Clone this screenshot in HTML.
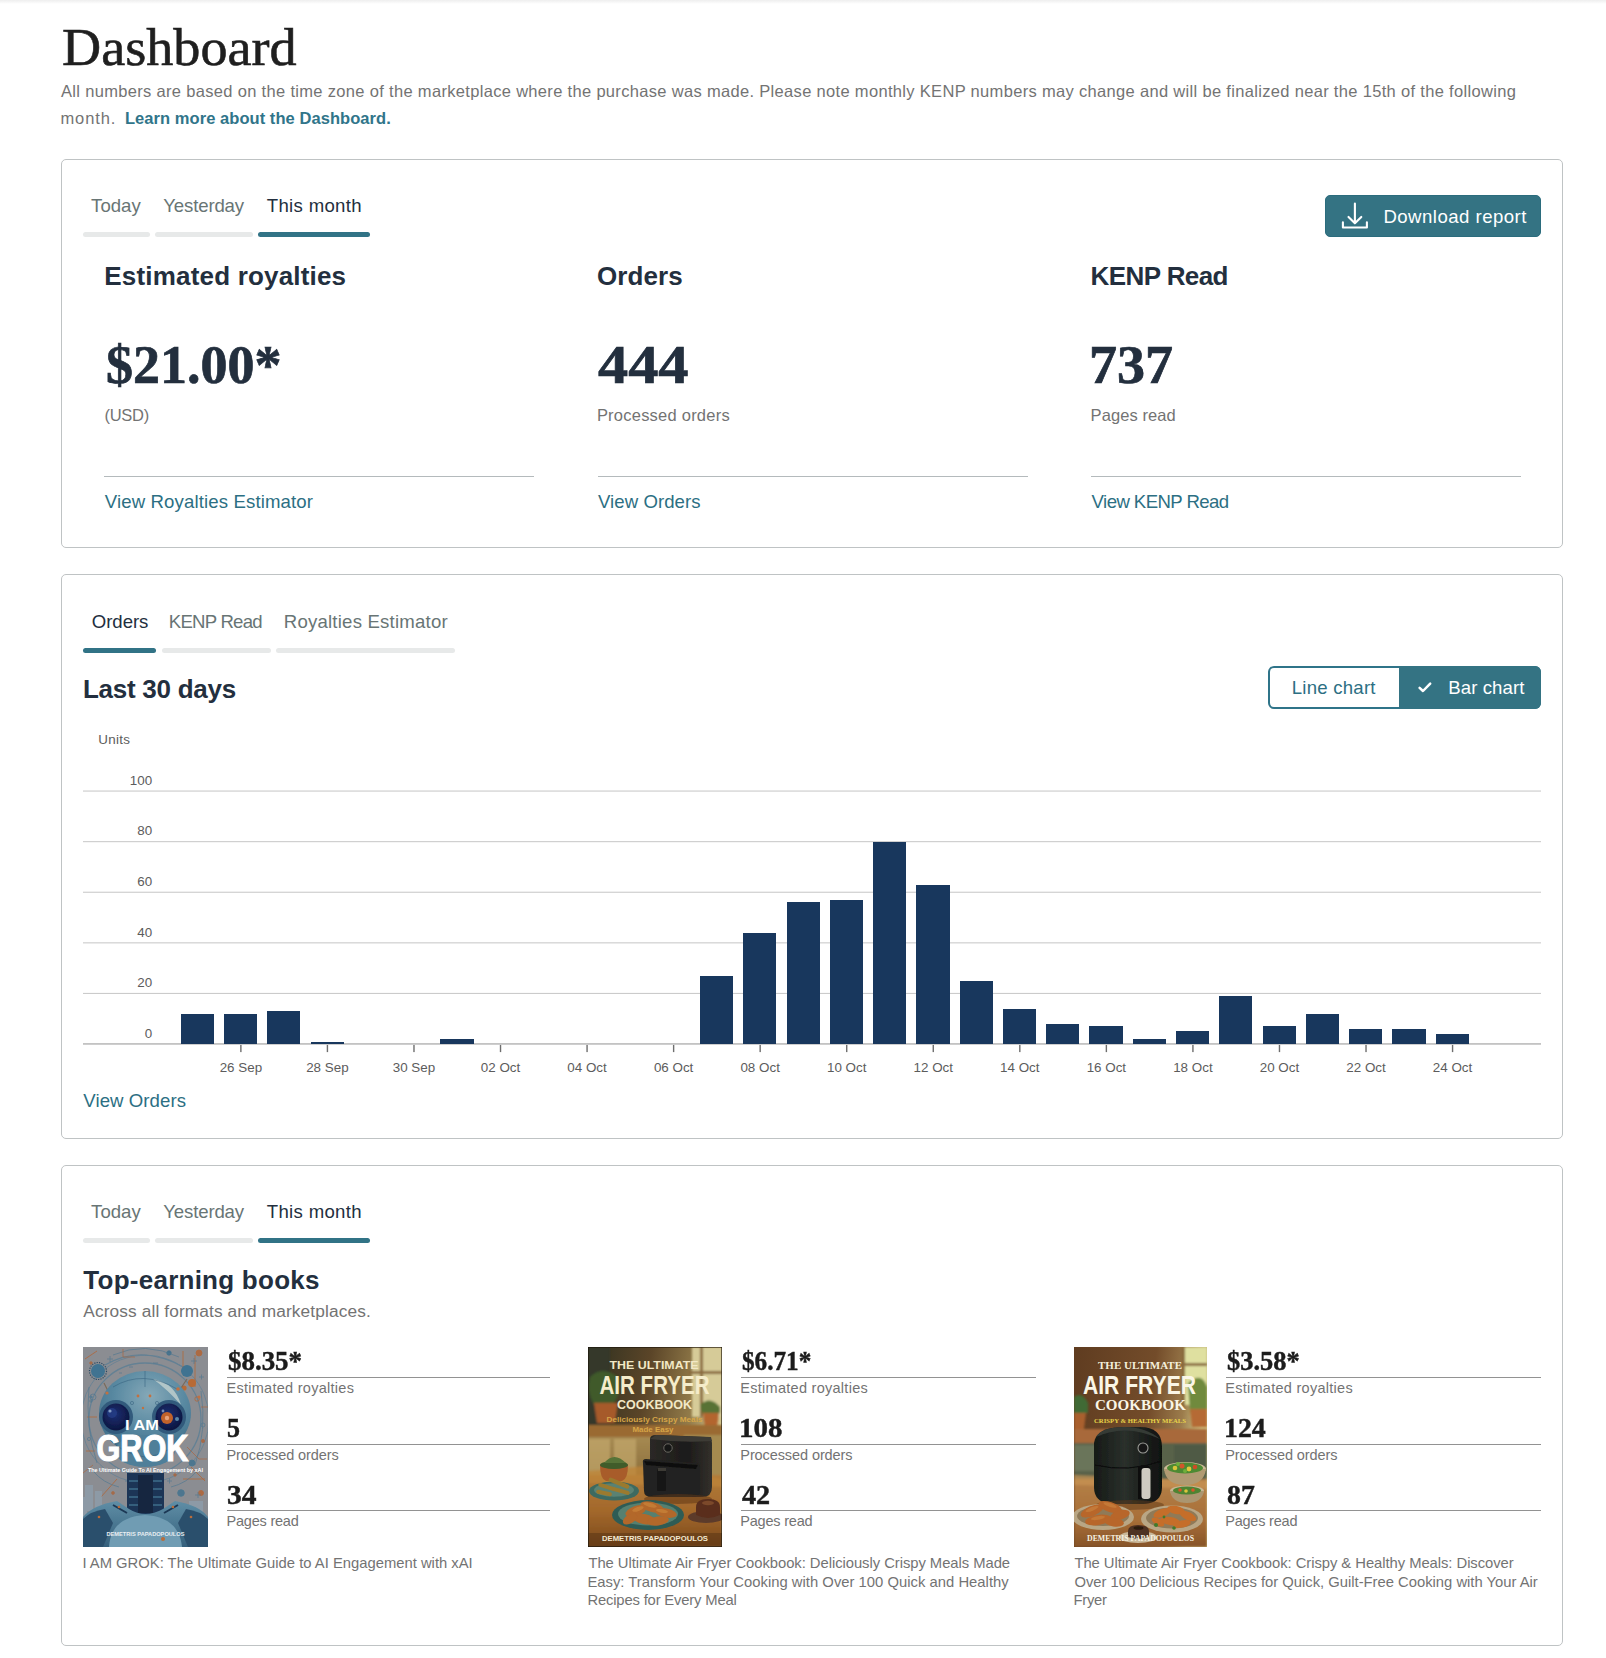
<!DOCTYPE html>
<html lang="en"><head><meta charset="utf-8"><title>Dashboard</title>
<style>
html,body{margin:0;padding:0;background:#fff}
body{width:1606px;height:1658px;position:relative;overflow:hidden}
.b{position:absolute}
.t{position:absolute;white-space:nowrap;line-height:normal}
.cover{overflow:hidden}
</style></head>
<body>
<div class="b" style="left:0px;top:0px;width:1606px;height:4px;background:linear-gradient(#eeeeee,#ffffff)"></div>
<div class="b" style="left:61px;top:159px;width:1502px;height:389px;border:1px solid #bfc3c4;border-radius:5px;box-sizing:border-box;background:#fff"></div>
<div class="b" style="left:61px;top:574px;width:1502px;height:565px;border:1px solid #bfc3c4;border-radius:5px;box-sizing:border-box;background:#fff"></div>
<div class="b" style="left:61px;top:1165px;width:1502px;height:481px;border:1px solid #bfc3c4;border-radius:5px;box-sizing:border-box;background:#fff"></div>
<div class="b" style="left:83px;top:232px;width:67px;height:5px;background:#e7e9e9;border-radius:3px"></div>
<div class="b" style="left:155px;top:232px;width:98px;height:5px;background:#e7e9e9;border-radius:3px"></div>
<div class="b" style="left:258px;top:232px;width:112px;height:5px;background:#317386;border-radius:3px"></div>
<div class="b" style="left:83px;top:647.5px;width:73px;height:5px;background:#317386;border-radius:3px"></div>
<div class="b" style="left:162px;top:647.5px;width:109px;height:5px;background:#e7e9e9;border-radius:3px"></div>
<div class="b" style="left:276px;top:647.5px;width:179px;height:5px;background:#e7e9e9;border-radius:3px"></div>
<div class="b" style="left:83px;top:1238px;width:67px;height:5px;background:#e7e9e9;border-radius:3px"></div>
<div class="b" style="left:155px;top:1238px;width:98px;height:5px;background:#e7e9e9;border-radius:3px"></div>
<div class="b" style="left:258px;top:1238px;width:112px;height:5px;background:#317386;border-radius:3px"></div>
<div class="b" style="left:1325px;top:195px;width:216px;height:42px;background:#347383;border:1px solid #2b6c7d;border-radius:5px;box-sizing:border-box"></div>
<svg class="b" style="left:1339px;top:200px" width="32" height="32" viewBox="0 0 32 32" fill="none" stroke="#fff" stroke-width="2.1" stroke-linecap="round" stroke-linejoin="round"><path d="M15.9 3.6V23.3M9.5 16.9L15.9 23.3L22.3 16.9M3.9 22.3V27.5H27.9V22.3"/></svg>
<div class="b" style="left:104px;top:476px;width:430px;height:1px;background:#b4babc"></div>
<div class="b" style="left:597.5px;top:476px;width:430px;height:1px;background:#b4babc"></div>
<div class="b" style="left:1090.5px;top:476px;width:430px;height:1px;background:#b4babc"></div>
<div class="b" style="left:1268px;top:666px;width:273px;height:43px;border:2px solid #2f7489;border-radius:6px;box-sizing:border-box;background:#fff"></div>
<div class="b" style="left:1399px;top:666px;width:142px;height:43px;background:#347383;border-radius:0 6px 6px 0"></div>
<svg class="b" style="left:1414px;top:677px" width="22" height="20" viewBox="0 0 22 20" fill="none" stroke="#fff" stroke-width="2.5" stroke-linecap="round" stroke-linejoin="round"><path d="M5.6 10.8L9 14L16.2 6.6"/></svg>
<svg class="b" style="left:83px;top:790px" width="1458" height="270" viewBox="0 0 1458 270"><rect x="0" y="0.50" width="1458" height="1.1" fill="#cbcbcb"/><rect x="0" y="51.10" width="1458" height="1.1" fill="#cbcbcb"/><rect x="0" y="101.70" width="1458" height="1.1" fill="#cbcbcb"/><rect x="0" y="152.30" width="1458" height="1.1" fill="#cbcbcb"/><rect x="0" y="202.90" width="1458" height="1.1" fill="#cbcbcb"/><rect x="157.18" y="254.8" width="1.4" height="7.3" fill="#6e6e6e"/><rect x="243.72" y="254.8" width="1.4" height="7.3" fill="#6e6e6e"/><rect x="330.28" y="254.8" width="1.4" height="7.3" fill="#6e6e6e"/><rect x="416.82" y="254.8" width="1.4" height="7.3" fill="#6e6e6e"/><rect x="503.37" y="254.8" width="1.4" height="7.3" fill="#6e6e6e"/><rect x="589.92" y="254.8" width="1.4" height="7.3" fill="#6e6e6e"/><rect x="676.47" y="254.8" width="1.4" height="7.3" fill="#6e6e6e"/><rect x="763.02" y="254.8" width="1.4" height="7.3" fill="#6e6e6e"/><rect x="849.57" y="254.8" width="1.4" height="7.3" fill="#6e6e6e"/><rect x="936.12" y="254.8" width="1.4" height="7.3" fill="#6e6e6e"/><rect x="1022.67" y="254.8" width="1.4" height="7.3" fill="#6e6e6e"/><rect x="1109.22" y="254.8" width="1.4" height="7.3" fill="#6e6e6e"/><rect x="1195.77" y="254.8" width="1.4" height="7.3" fill="#6e6e6e"/><rect x="1282.32" y="254.8" width="1.4" height="7.3" fill="#6e6e6e"/><rect x="1368.87" y="254.8" width="1.4" height="7.3" fill="#6e6e6e"/><rect x="0" y="253" width="1458" height="1.8" fill="#c3c3c3"/></svg>
<div class="b" style="left:181px;top:1013.7px;width:33px;height:30.7px;background:#18375d"></div>
<div class="b" style="left:224px;top:1013.7px;width:33px;height:30.7px;background:#18375d"></div>
<div class="b" style="left:267px;top:1011.2px;width:33px;height:33.2px;background:#18375d"></div>
<div class="b" style="left:311px;top:1041.5px;width:33px;height:2.9px;background:#18375d"></div>
<div class="b" style="left:440px;top:1039.0px;width:34px;height:5.4px;background:#18375d"></div>
<div class="b" style="left:700px;top:975.7px;width:33px;height:68.7px;background:#18375d"></div>
<div class="b" style="left:743px;top:932.7px;width:33px;height:111.7px;background:#18375d"></div>
<div class="b" style="left:787px;top:902.4px;width:33px;height:142.0px;background:#18375d"></div>
<div class="b" style="left:830px;top:899.8px;width:33px;height:144.6px;background:#18375d"></div>
<div class="b" style="left:873px;top:841.6px;width:33px;height:202.8px;background:#18375d"></div>
<div class="b" style="left:916px;top:884.7px;width:34px;height:159.7px;background:#18375d"></div>
<div class="b" style="left:960px;top:980.8px;width:33px;height:63.6px;background:#18375d"></div>
<div class="b" style="left:1003px;top:1008.6px;width:33px;height:35.8px;background:#18375d"></div>
<div class="b" style="left:1046px;top:1023.8px;width:33px;height:20.6px;background:#18375d"></div>
<div class="b" style="left:1089px;top:1026.3px;width:34px;height:18.1px;background:#18375d"></div>
<div class="b" style="left:1133px;top:1039.0px;width:33px;height:5.4px;background:#18375d"></div>
<div class="b" style="left:1176px;top:1031.4px;width:33px;height:13.0px;background:#18375d"></div>
<div class="b" style="left:1219px;top:996.0px;width:33px;height:48.4px;background:#18375d"></div>
<div class="b" style="left:1263px;top:1026.3px;width:33px;height:18.1px;background:#18375d"></div>
<div class="b" style="left:1306px;top:1013.7px;width:33px;height:30.7px;background:#18375d"></div>
<div class="b" style="left:1349px;top:1028.9px;width:33px;height:15.5px;background:#18375d"></div>
<div class="b" style="left:1392px;top:1028.9px;width:34px;height:15.5px;background:#18375d"></div>
<div class="b" style="left:1436px;top:1033.9px;width:33px;height:10.5px;background:#18375d"></div>
<div class="b cover" id="cover0" style="left:83px;top:1347px;width:125px;height:200px"><svg width="125" height="200" viewBox="0 0 125 200" style="display:block">
<defs>
<filter id="g0b" x="-10%" y="-10%" width="120%" height="120%"><feGaussianBlur stdDeviation="0.7"/></filter>
<radialGradient id="g0h" cx="0.55" cy="0.3" r="0.75"><stop offset="0" stop-color="#86a9b8"/><stop offset="0.5" stop-color="#5a8aa2"/><stop offset="1" stop-color="#3c6a86"/></radialGradient>
<radialGradient id="g0e" cx="0.45" cy="0.4" r="0.6"><stop offset="0" stop-color="#1d2f73"/><stop offset="1" stop-color="#0c1640"/></radialGradient>
<linearGradient id="g0s" x1="0" y1="0" x2="0" y2="1"><stop offset="0" stop-color="#5f8ea6"/><stop offset="1" stop-color="#35607c"/></linearGradient>
</defs>
<rect width="125" height="200" fill="#8b8d92"/>
<g filter="url(#g0b)">
<g fill="none" stroke="#5d7f95" stroke-width="1.3" opacity="0.85">
<circle cx="62" cy="72" r="56"/><circle cx="62" cy="72" r="64" stroke-width="0.8"/><path d="M22 18 Q60 -4 104 22"/>
</g>
<g fill="none" stroke="#b0673a" stroke-width="0.9" opacity="0.9">
<path d="M2 12 L14 4 M100 4 V26 M112 8 V40 M4 70 H14 M3 104 H12 M100 132 H122 M18 150 L34 132 M8 178 L20 166 M108 120 L122 134"/>
<circle cx="116" cy="6" r="3" fill="#b0673a"/><circle cx="114" cy="52" r="2.2"/><circle cx="86" cy="6" r="2.2" fill="#3f6f8c" stroke="#3f6f8c"/>
<circle cx="98" cy="146" r="3.3" fill="#46758f" stroke="#46758f"/><circle cx="118" cy="146" r="2.5" fill="#b0673a"/><circle cx="109" cy="116" r="3" fill="#46758f" stroke="#46758f"/>
</g>

<g fill="none" stroke="#4f7791" stroke-width="0.8" opacity="0.8">
<path d="M6 40 Q2 80 14 116 M118 44 Q124 84 112 118 M30 8 Q62 -6 96 10 M10 124 Q20 136 36 140 M88 140 Q104 136 114 124"/>
<path d="M24 12h6m-3-3v6 M108 14h6m-3-3v6 M116 30h5m-2.5-2.5v5 M42 134h5m-2.5-2.5v5 M84 134h5m-2.5-2.5v5 M112 148h6m-3-3v6 M6 54h4m-2-2v4 M46 20h4 M70 16h5 M36 26h3"/>
<circle cx="10" cy="50" r="3"/><circle cx="8" cy="50" r="1.2" fill="#4f7791"/><circle cx="120" cy="78" r="2"/><circle cx="6" cy="92" r="1.6"/>
</g>
<g fill="none" stroke="#a9653d" stroke-width="0.8" opacity="0.85">
<path d="M40 2 V10 H52 M118 60 H125 M0 126 L10 118 M104 100 L116 112 H124 M14 184 H24 M100 186 L110 176"/>
<circle cx="8" cy="16" r="1.3" fill="#a9653d"/><circle cx="120" cy="94" r="1.6" fill="#a9653d"/><circle cx="30" cy="146" r="1.4" fill="#a9653d"/><circle cx="92" cy="128" r="1.3" fill="#a9653d"/>
</g>
<g fill="#8fa7b6" opacity="0.55"><rect x="2" y="138" width="8" height="26"/><rect x="12" y="144" width="7" height="20"/><rect x="106" y="154" width="14" height="12"/><rect x="0" y="150" width="4" height="30"/></g>
<circle cx="15" cy="24" r="7" fill="#3f7391"/><circle cx="15" cy="24" r="8.5" fill="none" stroke="#2b4a63" stroke-width="1.2" stroke-dasharray="1.2 1.2"/>
<circle cx="104" cy="24" r="6" fill="#3f7391"/><circle cx="109" cy="36" r="4" fill="#b86a35"/><circle cx="101" cy="41" r="2.6" fill="#b86a35"/>
<path d="M21 36 L26 46 M96 44 L104 32" stroke="#7a6a5a" stroke-width="1.2"/>
<ellipse cx="62" cy="66" rx="46" ry="42" fill="url(#g0h)"/>
<path d="M70 32 Q92 36 98 58 Q84 42 70 32Z" fill="#c9d5d2" opacity="0.75"/>
<ellipse cx="62" cy="104" rx="30" ry="16" fill="#4f7f99"/>
<circle cx="33" cy="70" r="17" fill="#315a7c"/><circle cx="86" cy="70" r="17" fill="#315a7c"/>
<circle cx="33" cy="70" r="13.5" fill="url(#g0e)"/><circle cx="86" cy="70" r="13.5" fill="url(#g0e)"/>

<g fill="none" stroke="#2f5a78" stroke-width="0.7" opacity="0.7"><path d="M30 40 Q60 22 94 42 M22 88 Q40 108 62 110 Q86 108 102 88 M62 24 V40"/><circle cx="49" cy="56" r="1.6"/><circle cx="74" cy="56" r="1.6"/></g>
<circle cx="29" cy="66" r="5" fill="#27408a" opacity="0.7"/><circle cx="27" cy="64" r="1.6" fill="#9fb6d8" opacity="0.8"/><circle cx="80" cy="64" r="1.4" fill="#9fb6d8" opacity="0.7"/>
<circle cx="84" cy="71" r="6" fill="#c2622b"/><circle cx="84" cy="71" r="2.2" fill="#e8a27a"/><circle cx="94" cy="72" r="2" fill="#5a87a8"/>
<g fill="#c2703f"><circle cx="55" cy="49" r="1.4"/><circle cx="67" cy="49" r="1.4"/><circle cx="60" cy="61" r="1.2"/><circle cx="116" cy="50" r="1.5"/><circle cx="24" cy="46" r="1.6"/><circle cx="95" cy="42" r="1.8"/></g>
<rect x="44" y="126" width="37" height="42" fill="#1b3556"/>
<g stroke="#3f6c8a" stroke-width="1.6"><path d="M46 134H79M46 142H79M46 150H79M46 158H79"/></g>
<rect x="55" y="128" width="15" height="38" fill="#122640"/>
<path d="M0 170 Q10 158 34 154 L46 162 Q62 172 80 162 L92 154 Q116 158 125 170 V200 H0Z" fill="url(#g0s)"/>
<path d="M26 200 Q28 170 62 168 Q96 170 99 200Z" fill="#6f9cb3"/>
<path d="M0 172 Q8 164 22 162 L30 176 L20 200 H0Z" fill="#2c4f6c"/><path d="M125 172 Q117 164 103 162 L95 176 L105 200 H125Z" fill="#2c4f6c"/>
<path d="M30 158 L44 166 M95 158 L81 166" stroke="#1d3854" stroke-width="2"/>
<g fill="#b96c3a"><circle cx="36" cy="160" r="1.3"/><circle cx="90" cy="160" r="1.3"/><circle cx="80" cy="192" r="2"/><circle cx="16" cy="170" r="1.3"/><circle cx="108" cy="170" r="1.3"/></g>
</g>
<g font-family="'Liberation Sans', sans-serif" fill="#fff" text-anchor="middle" font-weight="700">
<text x="59" y="83.2" font-size="14.5" textLength="34" lengthAdjust="spacingAndGlyphs">I AM</text>
<text x="59.5" y="113.6" font-size="36" textLength="92" lengthAdjust="spacingAndGlyphs" stroke="#fff" stroke-width="1.1">GROK</text>
<text x="62.5" y="125" font-size="6.2" textLength="115" lengthAdjust="spacingAndGlyphs">The Ultimate Guide To AI Engagement by xAI</text>
<text x="62.5" y="189.3" font-size="4.9" textLength="78" lengthAdjust="spacingAndGlyphs" fill="#e9eef2">DEMETRIS PAPADOPOULOS</text>
</g>
</svg>
</div>
<div class="b" style="left:227px;top:1377px;width:323px;height:1px;background:#929292"></div>
<div class="b" style="left:227px;top:1444px;width:323px;height:1px;background:#929292"></div>
<div class="b" style="left:227px;top:1510px;width:323px;height:1px;background:#929292"></div>
<div class="b cover" id="cover1" style="left:588px;top:1347px;width:134px;height:200px"><svg width="134" height="200" viewBox="0 0 134 200" style="display:block">
<defs>
<filter id="g1b" x="-10%" y="-10%" width="120%" height="120%"><feGaussianBlur stdDeviation="1.1"/></filter>
<filter id="g1c" x="-10%" y="-10%" width="120%" height="120%"><feGaussianBlur stdDeviation="0.5"/></filter>
<linearGradient id="g1bg" x1="0" y1="0" x2="1" y2="0.25"><stop offset="0" stop-color="#2e3020"/><stop offset="0.45" stop-color="#5b4528"/><stop offset="0.8" stop-color="#937c4a"/><stop offset="1" stop-color="#cfc18a"/></linearGradient>
<linearGradient id="g1ct" x1="0" y1="0" x2="0" y2="1"><stop offset="0" stop-color="#b27c3a"/><stop offset="0.5" stop-color="#a3682b"/><stop offset="1" stop-color="#7a491d"/></linearGradient>
<linearGradient id="g1f" x1="0" y1="0" x2="1" y2="0"><stop offset="0" stop-color="#2b2926"/><stop offset="0.6" stop-color="#1c1b1a"/><stop offset="1" stop-color="#33302b"/></linearGradient>
<linearGradient id="g1cab" x1="0" y1="0" x2="0" y2="1"><stop offset="0" stop-color="#a68a52"/><stop offset="1" stop-color="#8a6d3a"/></linearGradient>
</defs>
<rect width="134" height="200" fill="url(#g1bg)"/>
<g filter="url(#g1b)">
<rect x="104" y="0" width="30" height="70" fill="#d6cb98"/><rect x="112" y="0" width="3" height="70" fill="#8a6b3c"/><rect x="100" y="24" width="34" height="3" fill="#8a6b3c"/>
<rect x="0" y="0" width="22" height="80" fill="#34382a"/>
<path d="M2 30 Q14 18 30 30 Q34 48 24 58 H6 Q-2 44 2 30Z" fill="#3f5a2b"/>
<path d="M6 56 H30 L27 76 H9Z" fill="#a65a2c"/>
<path d="M112 58 Q122 48 132 60 V66 H114Z" fill="#587234"/><path d="M115 66 H131 L129 80 H117Z" fill="#b3652f"/>
<rect x="0" y="78" width="134" height="12" fill="#9a6a32"/>
<rect x="0" y="90" width="70" height="42" fill="url(#g1cab)"/><rect x="96" y="88" width="38" height="50" fill="#a58a50"/>
<path d="M0 92 H22 V128 H0Z M26 92 H48 V128 H26Z" fill="#c3a86c" opacity="0.7"/>
<path d="M0 128 H134 V200 H0Z" fill="url(#g1ct)"/>
<path d="M0 124 L70 118 L134 132 V140 L0 136Z" fill="#bd8438" opacity="0.75"/>
</g>
<g filter="url(#g1c)">
<path d="M62 92 Q62 88 68 88 L118 90 Q124 90 124 96 V140 Q124 150 114 150 H72 Q62 150 62 140Z" fill="url(#g1f)"/>
<path d="M62 92 Q92 96 124 94 L123 90 L68 88Z" fill="#3d3a35"/>
<path d="M55 116 Q54 112 58 112 L108 116 Q112 116 112 120 V144 Q112 150 104 150 H64 Q56 150 56 144Z" fill="#232220"/>
<path d="M56 114 L110 118 L108 122 L58 118Z" fill="#0f0f0e"/>
<rect x="69" y="122" width="9" height="22" rx="1.5" fill="#141413"/><rect x="70" y="121" width="8" height="3" fill="#3c3a36"/>
<circle cx="80" cy="101" r="4.2" fill="#121212" stroke="#6d6a64" stroke-width="1"/>
<ellipse cx="90" cy="152" rx="34" ry="5" fill="#5e3616" opacity="0.55"/>
<path d="M12 118 H40 Q40 132 34 134 H18 Q12 132 12 118Z" fill="#a85b2b"/><ellipse cx="26" cy="118" rx="14" ry="4" fill="#3f5b2a"/><path d="M16 116 Q26 104 38 116Z" fill="#567337"/>
<ellipse cx="26" cy="144" rx="25" ry="9.5" fill="#3e6a60"/><ellipse cx="26" cy="143" rx="20" ry="6.8" fill="#5a8273"/>
<g fill="#9b7a2e"><rect x="10" y="138" width="18" height="4" rx="2" transform="rotate(18 19 140)"/><rect x="20" y="134" width="22" height="4.4" rx="2" transform="rotate(22 31 136)"/><rect x="8" y="144" width="16" height="4" rx="2" transform="rotate(12 16 146)"/><rect x="24" y="142" width="18" height="4" rx="2" transform="rotate(16 33 144)"/></g>
<ellipse cx="60" cy="168" rx="36" ry="15" fill="#2f5b55"/><ellipse cx="60" cy="167" rx="30" ry="11.5" fill="#56806f"/>
<g fill="#b3672a"><ellipse cx="48" cy="164" rx="11" ry="5" transform="rotate(-20 48 164)"/><ellipse cx="64" cy="160" rx="12" ry="5" transform="rotate(15 64 160)"/><ellipse cx="78" cy="166" rx="11" ry="4.6" transform="rotate(10 78 166)"/><ellipse cx="56" cy="172" rx="12" ry="5" transform="rotate(12 56 172)"/><ellipse cx="70" cy="174" rx="11" ry="4.5" transform="rotate(-8 70 174)"/><ellipse cx="42" cy="172" rx="8" ry="4.4" transform="rotate(-30 42 172)"/></g>
<g fill="#cf8a3c" opacity="0.6"><ellipse cx="62" cy="158" rx="7" ry="2" transform="rotate(15 62 158)"/><ellipse cx="50" cy="162" rx="6" ry="2" transform="rotate(-20 50 162)"/><ellipse cx="74" cy="164" rx="6" ry="1.8" transform="rotate(10 74 164)"/></g>
<ellipse cx="118" cy="170" rx="18" ry="6" fill="#5c3b2c"/><path d="M108 160 Q108 152 120 152 Q132 152 132 160 V168 Q120 174 108 168Z" fill="#5a2f1c"/><ellipse cx="120" cy="156" rx="6" ry="2.2" fill="#7c4a2c"/>
</g>
<rect x="0" y="186" width="134" height="14" fill="#5a3414" opacity="0.55"/>
<g font-family="'Liberation Sans', sans-serif" text-anchor="middle" font-weight="700">
<text x="66" y="22.2" font-size="11.6" fill="#f2e8c6" textLength="89" lengthAdjust="spacingAndGlyphs">THE ULTIMATE</text>
<text x="66.5" y="47.2" font-size="26.5" fill="#f5ecca" textLength="110" lengthAdjust="spacingAndGlyphs">AIR FRYER</text>
<text x="66.5" y="62" font-size="12.4" fill="#f2e8c6" textLength="75" lengthAdjust="spacingAndGlyphs">COOKBOOK</text>
<text x="66.5" y="75" font-size="7.6" fill="#d6a548" textLength="96" lengthAdjust="spacingAndGlyphs">Deliciously Crispy Meals</text>
<text x="65" y="84.6" font-size="7.6" fill="#d6a548" textLength="41" lengthAdjust="spacingAndGlyphs">Made Easy</text>
<text x="67" y="193.6" font-size="8" fill="#f3ead2" textLength="106" lengthAdjust="spacingAndGlyphs">DEMETRIS PAPADOPOULOS</text>
</g>
<rect x="0.25" y="0.25" width="133.5" height="199.5" fill="none" stroke="#1c140a" stroke-width="0.7"/>
</svg>
</div>
<div class="b" style="left:741px;top:1377px;width:295px;height:1px;background:#929292"></div>
<div class="b" style="left:741px;top:1444px;width:295px;height:1px;background:#929292"></div>
<div class="b" style="left:741px;top:1510px;width:295px;height:1px;background:#929292"></div>
<div class="b cover" id="cover2" style="left:1074px;top:1347px;width:133px;height:200px"><svg width="133" height="200" viewBox="0 0 133 200" style="display:block">
<defs>
<filter id="g2b" x="-10%" y="-10%" width="120%" height="120%"><feGaussianBlur stdDeviation="1.1"/></filter>
<filter id="g2c" x="-10%" y="-10%" width="120%" height="120%"><feGaussianBlur stdDeviation="0.5"/></filter>
<linearGradient id="g2bg" x1="0" y1="0" x2="1" y2="0.2"><stop offset="0" stop-color="#5f3c20"/><stop offset="0.6" stop-color="#734c2a"/><stop offset="0.85" stop-color="#9c7c4c"/><stop offset="1" stop-color="#cfc585"/></linearGradient>
<linearGradient id="g2ct" x1="0" y1="0" x2="0" y2="1"><stop offset="0" stop-color="#b48048"/><stop offset="0.6" stop-color="#a86f38"/><stop offset="1" stop-color="#875428"/></linearGradient>
<linearGradient id="g2f" x1="0" y1="0" x2="1" y2="0"><stop offset="0" stop-color="#161a17"/><stop offset="0.45" stop-color="#2a302b"/><stop offset="1" stop-color="#0f1110"/></linearGradient>
</defs>
<rect width="133" height="200" fill="url(#g2bg)"/>
<g filter="url(#g2b)">
<rect x="110" y="0" width="23" height="58" fill="#dfe0a0"/><rect x="108" y="16" width="25" height="3" fill="#8b6a3c"/><rect x="107" y="0" width="4" height="60" fill="#8b6a3c"/>
<path d="M114 36 Q128 24 133 40 V66 H116Z" fill="#6f8a3c"/><path d="M116 62 H133 V80 H118Z" fill="#b56a35"/>
<path d="M0 50 Q8 44 14 56 V66 H0Z" fill="#3f6a35"/><path d="M0 66 H12 L10 82 H0Z" fill="#a9602f"/>
<rect x="0" y="82" width="133" height="14" fill="#a8693a"/>
<rect x="0" y="96" width="133" height="40" fill="#58624a"/><rect x="0" y="98" width="26" height="26" fill="#6b745a"/><rect x="100" y="98" width="33" height="30" fill="#4f5a44"/>
<path d="M0 132 H133 V200 H0Z" fill="url(#g2ct)"/>
<path d="M0 128 L133 134 V142 L0 138Z" fill="#c99454" opacity="0.7"/>
</g>
<g filter="url(#g2c)">
<path d="M20 96 Q22 80 50 80 H66 Q88 80 88 100 V140 Q88 156 70 157 H38 Q20 156 20 140Z" fill="url(#g2f)"/>
<path d="M22 90 Q52 76 86 92 Q72 80 50 80 Q28 80 22 90Z" fill="#353b36"/>
<path d="M21 118 Q54 126 88 114" fill="none" stroke="#070808" stroke-width="1"/>
<circle cx="69" cy="101" r="5" fill="#121413" stroke="#9a9a96" stroke-width="1.1"/>
<path d="M64 120 Q70 116 76 120 V152 H64Z" fill="#0c0d0c"/><rect x="67.5" y="121" width="9" height="31" rx="3" fill="#cfcbc2"/>
<ellipse cx="56" cy="158" rx="34" ry="5" fill="#5e3a1a" opacity="0.5"/>
<ellipse cx="111" cy="122" rx="21" ry="7" fill="#c9b894"/><path d="M90 122 Q92 138 111 138 Q130 138 132 122Z" fill="#b09a72"/>
<ellipse cx="111" cy="121" rx="18" ry="5.4" fill="#4e8a33"/>
<g><circle cx="101" cy="121" r="2.3" fill="#d9c53a"/><circle cx="108" cy="119" r="2.5" fill="#d3572a"/><circle cx="115" cy="122" r="2.4" fill="#e0c83e"/><circle cx="121" cy="120" r="2.3" fill="#cf4b28"/><circle cx="111" cy="124" r="2" fill="#6fae3c"/><circle cx="104" cy="117" r="2" fill="#6fae3c"/></g>
<ellipse cx="113" cy="144" rx="17" ry="5.6" fill="#c7b593"/><path d="M96 144 Q98 156 113 156 Q128 156 130 144Z" fill="#ab9670"/><ellipse cx="113" cy="143.5" rx="14" ry="4" fill="#4d8432"/>
<g><circle cx="106" cy="143" r="1.8" fill="#d8552a"/><circle cx="112" cy="144" r="1.8" fill="#dcc53c"/><circle cx="119" cy="143" r="1.8" fill="#d8552a"/></g>
<ellipse cx="29" cy="170" rx="31" ry="13" fill="#b9a684"/><ellipse cx="29" cy="169" rx="26" ry="10" fill="#8f7a58"/>
<g fill="#b8662a"><ellipse cx="18" cy="164" rx="12" ry="5" transform="rotate(-22 18 164)"/><ellipse cx="36" cy="160" rx="12" ry="5" transform="rotate(18 36 160)"/><ellipse cx="46" cy="168" rx="10" ry="4.6" transform="rotate(-15 46 168)"/><ellipse cx="24" cy="173" rx="13" ry="5" transform="rotate(-10 24 173)"/><ellipse cx="40" cy="175" rx="10" ry="4.5" transform="rotate(10 40 175)"/></g>
<g fill="#cc8640" opacity="0.6"><ellipse cx="18" cy="162" rx="7" ry="1.8" transform="rotate(-22 18 162)"/><ellipse cx="36" cy="158" rx="7" ry="1.8" transform="rotate(18 36 158)"/><ellipse cx="24" cy="171" rx="7" ry="1.8" transform="rotate(-10 24 171)"/></g>
<ellipse cx="98" cy="172" rx="31" ry="13.5" fill="#b9a684"/><ellipse cx="98" cy="171" rx="26" ry="10.5" fill="#8f7a58"/>
<g fill="#c56e2a"><ellipse cx="88" cy="166" rx="9" ry="4" transform="rotate(-20 88 166)"/><ellipse cx="102" cy="163" rx="9" ry="4" transform="rotate(12 102 163)"/><ellipse cx="114" cy="169" rx="9" ry="4" transform="rotate(25 114 169)"/><ellipse cx="96" cy="174" rx="10" ry="4" transform="rotate(8 96 174)"/><ellipse cx="108" cy="177" rx="9" ry="3.6" transform="rotate(-12 108 177)"/><ellipse cx="84" cy="175" rx="7" ry="3.4" transform="rotate(30 84 175)"/></g>
<g fill="#3f7a2a"><circle cx="82" cy="178" r="2"/><circle cx="100" cy="181" r="1.8"/><circle cx="90" cy="170" r="1.4"/></g>
<ellipse cx="64" cy="190" rx="19" ry="6" fill="#c9b89a"/><path d="M54 184 Q54 178 64 178 Q75 178 75 184 V190 Q64 194 54 190Z" fill="#4e3020"/><ellipse cx="64.5" cy="181" rx="5" ry="1.8" fill="#2c1a10"/>
</g>
<g font-family="'Liberation Sans', sans-serif" text-anchor="middle" font-weight="700">
<text x="66" y="22.2" font-size="11.4" fill="#f4efdc" textLength="84" lengthAdjust="spacingAndGlyphs" font-family="'Liberation Serif', serif">THE ULTIMATE</text>
<text x="65.5" y="47" font-size="26.5" fill="#faf6e6" textLength="113" lengthAdjust="spacingAndGlyphs">AIR FRYER</text>
<text x="66.5" y="63.4" font-size="14" fill="#faf6e6" textLength="91" lengthAdjust="spacingAndGlyphs" font-family="'Liberation Serif', serif">COOKBOOK</text>
<text x="66" y="75.6" font-size="6.5" fill="#e8d44a" textLength="92" lengthAdjust="spacingAndGlyphs" font-family="'Liberation Serif', serif">CRISPY &amp; HEALTHY MEALS</text>
<text x="66.5" y="193.6" font-size="8" fill="#f6f0e0" textLength="107" lengthAdjust="spacingAndGlyphs" font-family="'Liberation Serif', serif">DEMETRIS PAPADOPOULOS</text>
</g>
</svg>
</div>
<div class="b" style="left:1226px;top:1377px;width:315px;height:1px;background:#929292"></div>
<div class="b" style="left:1226px;top:1444px;width:315px;height:1px;background:#929292"></div>
<div class="b" style="left:1226px;top:1510px;width:315px;height:1px;background:#929292"></div>
<div class="t" id="t0" style="top:15.60px;font-family:'Liberation Serif', serif;font-size:53.6px;color:#1f1f1f;left:61.69px;-webkit-text-stroke:0.6px #1f1f1f;transform:scaleX(1.0109);transform-origin:0 0;">Dashboard</div>
<div class="t" id="t1" style="top:81.80px;font-family:'Liberation Sans', sans-serif;font-size:16.5px;color:#737373;letter-spacing:0.320px;left:61.00px;">All numbers are based on the time zone of the marketplace where the purchase was made. Please note monthly KENP numbers may change and will be finalized near the 15th of the following</div>
<div class="t" id="t2" style="top:108.80px;font-family:'Liberation Sans', sans-serif;font-size:16.5px;color:#737373;letter-spacing:0.868px;left:60.50px;">month.</div>
<div class="t" id="t3" style="top:108.80px;font-family:'Liberation Sans', sans-serif;font-size:16.5px;color:#30758a;font-weight:700;letter-spacing:0.061px;left:124.90px;">Learn more about the Dashboard.</div>
<div class="t" id="t4" style="top:194.80px;font-family:'Liberation Sans', sans-serif;font-size:18.6px;color:#687575;letter-spacing:-0.005px;left:91.10px;">Today</div>
<div class="t" id="t5" style="top:194.80px;font-family:'Liberation Sans', sans-serif;font-size:18.6px;color:#687575;letter-spacing:-0.152px;left:163.30px;">Yesterday</div>
<div class="t" id="t6" style="top:194.80px;font-family:'Liberation Sans', sans-serif;font-size:18.6px;color:#232f3e;letter-spacing:0.330px;left:266.70px;">This month</div>
<div class="t" id="t7" style="top:611.00px;font-family:'Liberation Sans', sans-serif;font-size:18.6px;color:#232f3e;letter-spacing:-0.046px;left:91.80px;">Orders</div>
<div class="t" id="t8" style="top:611.00px;font-family:'Liberation Sans', sans-serif;font-size:18.6px;color:#687575;letter-spacing:-0.764px;left:168.80px;">KENP Read</div>
<div class="t" id="t9" style="top:611.00px;font-family:'Liberation Sans', sans-serif;font-size:18.6px;color:#687575;letter-spacing:0.207px;left:283.80px;">Royalties Estimator</div>
<div class="t" id="t10" style="top:1201.00px;font-family:'Liberation Sans', sans-serif;font-size:18.6px;color:#687575;letter-spacing:-0.005px;left:91.10px;">Today</div>
<div class="t" id="t11" style="top:1201.00px;font-family:'Liberation Sans', sans-serif;font-size:18.6px;color:#687575;letter-spacing:-0.152px;left:163.30px;">Yesterday</div>
<div class="t" id="t12" style="top:1201.00px;font-family:'Liberation Sans', sans-serif;font-size:18.6px;color:#232f3e;letter-spacing:0.330px;left:266.70px;">This month</div>
<div class="t" id="t13" style="top:206.00px;font-family:'Liberation Sans', sans-serif;font-size:18.6px;color:#fff;letter-spacing:0.474px;left:1383.40px;">Download report</div>
<div class="t" id="t14" style="top:261.00px;font-family:'Liberation Sans', sans-serif;font-size:26px;color:#232f3e;font-weight:700;letter-spacing:0.185px;left:104.30px;">Estimated royalties</div>
<div class="t" id="t15" style="top:332.60px;font-family:'Liberation Serif', serif;font-size:55px;color:#232f3e;font-weight:700;left:105.57px;-webkit-text-stroke:0.7px #232f3e;transform:scaleX(0.9810);transform-origin:0 0;">$21.00*</div>
<div class="t" id="t16" style="top:405.80px;font-family:'Liberation Sans', sans-serif;font-size:16.5px;color:#737373;letter-spacing:-0.233px;left:104.40px;">(USD)</div>
<div class="t" id="t17" style="top:490.60px;font-family:'Liberation Sans', sans-serif;font-size:18.6px;color:#2c6f83;letter-spacing:0.126px;left:104.80px;">View Royalties Estimator</div>
<div class="t" id="t18" style="top:261.00px;font-family:'Liberation Sans', sans-serif;font-size:26px;color:#232f3e;font-weight:700;letter-spacing:0.120px;left:596.90px;">Orders</div>
<div class="t" id="t19" style="top:332.60px;font-family:'Liberation Serif', serif;font-size:55px;color:#232f3e;font-weight:700;left:598.25px;-webkit-text-stroke:0.7px #232f3e;transform:scaleX(1.0976);transform-origin:0 0;">444</div>
<div class="t" id="t20" style="top:405.80px;font-family:'Liberation Sans', sans-serif;font-size:16.5px;color:#737373;letter-spacing:0.229px;left:596.90px;">Processed orders</div>
<div class="t" id="t21" style="top:490.60px;font-family:'Liberation Sans', sans-serif;font-size:18.6px;color:#2c6f83;letter-spacing:0.074px;left:597.90px;">View Orders</div>
<div class="t" id="t22" style="top:261.00px;font-family:'Liberation Sans', sans-serif;font-size:26px;color:#232f3e;font-weight:700;letter-spacing:-0.582px;left:1090.60px;">KENP Read</div>
<div class="t" id="t23" style="top:332.60px;font-family:'Liberation Serif', serif;font-size:55px;color:#232f3e;font-weight:700;left:1089.39px;-webkit-text-stroke:0.7px #232f3e;transform:scaleX(1.0203);transform-origin:0 0;">737</div>
<div class="t" id="t24" style="top:405.80px;font-family:'Liberation Sans', sans-serif;font-size:16.5px;color:#737373;letter-spacing:0.087px;left:1090.60px;">Pages read</div>
<div class="t" id="t25" style="top:490.60px;font-family:'Liberation Sans', sans-serif;font-size:18.6px;color:#2c6f83;letter-spacing:-0.580px;left:1091.60px;">View KENP Read</div>
<div class="t" id="t26" style="top:674.00px;font-family:'Liberation Sans', sans-serif;font-size:26px;color:#232f3e;font-weight:700;letter-spacing:-0.266px;left:83.00px;">Last 30 days</div>
<div class="t" id="t27" style="top:676.80px;font-family:'Liberation Sans', sans-serif;font-size:18.6px;color:#2c6f83;letter-spacing:0.223px;left:1291.80px;">Line chart</div>
<div class="t" id="t28" style="top:676.80px;font-family:'Liberation Sans', sans-serif;font-size:18.6px;color:#fff;letter-spacing:0.104px;left:1448.20px;">Bar chart</div>
<div class="t" id="t29" style="top:732.20px;font-family:'Liberation Sans', sans-serif;font-size:13.4px;color:#5c5c5c;letter-spacing:0.297px;left:98.20px;">Units</div>
<div class="t" id="t30" style="top:772.85px;font-family:'Liberation Sans', sans-serif;font-size:13.4px;color:#5c5c5c;right:1453.80px;">100</div>
<div class="t" id="t31" style="top:823.45px;font-family:'Liberation Sans', sans-serif;font-size:13.4px;color:#5c5c5c;right:1453.80px;">80</div>
<div class="t" id="t32" style="top:874.05px;font-family:'Liberation Sans', sans-serif;font-size:13.4px;color:#5c5c5c;right:1453.80px;">60</div>
<div class="t" id="t33" style="top:924.65px;font-family:'Liberation Sans', sans-serif;font-size:13.4px;color:#5c5c5c;right:1453.80px;">40</div>
<div class="t" id="t34" style="top:975.25px;font-family:'Liberation Sans', sans-serif;font-size:13.4px;color:#5c5c5c;right:1453.80px;">20</div>
<div class="t" id="t35" style="top:1025.85px;font-family:'Liberation Sans', sans-serif;font-size:13.4px;color:#5c5c5c;right:1453.80px;">0</div>
<div class="t" id="t36" style="top:1059.80px;font-family:'Liberation Sans', sans-serif;font-size:13.4px;color:#5c5c5c;left:140.88px;width:200px;text-align:center;">26 Sep</div>
<div class="t" id="t37" style="top:1059.80px;font-family:'Liberation Sans', sans-serif;font-size:13.4px;color:#5c5c5c;left:227.42px;width:200px;text-align:center;">28 Sep</div>
<div class="t" id="t38" style="top:1059.80px;font-family:'Liberation Sans', sans-serif;font-size:13.4px;color:#5c5c5c;left:313.98px;width:200px;text-align:center;">30 Sep</div>
<div class="t" id="t39" style="top:1059.80px;font-family:'Liberation Sans', sans-serif;font-size:13.4px;color:#5c5c5c;left:400.52px;width:200px;text-align:center;">02 Oct</div>
<div class="t" id="t40" style="top:1059.80px;font-family:'Liberation Sans', sans-serif;font-size:13.4px;color:#5c5c5c;left:487.07px;width:200px;text-align:center;">04 Oct</div>
<div class="t" id="t41" style="top:1059.80px;font-family:'Liberation Sans', sans-serif;font-size:13.4px;color:#5c5c5c;left:573.62px;width:200px;text-align:center;">06 Oct</div>
<div class="t" id="t42" style="top:1059.80px;font-family:'Liberation Sans', sans-serif;font-size:13.4px;color:#5c5c5c;left:660.17px;width:200px;text-align:center;">08 Oct</div>
<div class="t" id="t43" style="top:1059.80px;font-family:'Liberation Sans', sans-serif;font-size:13.4px;color:#5c5c5c;left:746.73px;width:200px;text-align:center;">10 Oct</div>
<div class="t" id="t44" style="top:1059.80px;font-family:'Liberation Sans', sans-serif;font-size:13.4px;color:#5c5c5c;left:833.27px;width:200px;text-align:center;">12 Oct</div>
<div class="t" id="t45" style="top:1059.80px;font-family:'Liberation Sans', sans-serif;font-size:13.4px;color:#5c5c5c;left:919.83px;width:200px;text-align:center;">14 Oct</div>
<div class="t" id="t46" style="top:1059.80px;font-family:'Liberation Sans', sans-serif;font-size:13.4px;color:#5c5c5c;left:1006.38px;width:200px;text-align:center;">16 Oct</div>
<div class="t" id="t47" style="top:1059.80px;font-family:'Liberation Sans', sans-serif;font-size:13.4px;color:#5c5c5c;left:1092.92px;width:200px;text-align:center;">18 Oct</div>
<div class="t" id="t48" style="top:1059.80px;font-family:'Liberation Sans', sans-serif;font-size:13.4px;color:#5c5c5c;left:1179.47px;width:200px;text-align:center;">20 Oct</div>
<div class="t" id="t49" style="top:1059.80px;font-family:'Liberation Sans', sans-serif;font-size:13.4px;color:#5c5c5c;left:1266.02px;width:200px;text-align:center;">22 Oct</div>
<div class="t" id="t50" style="top:1059.80px;font-family:'Liberation Sans', sans-serif;font-size:13.4px;color:#5c5c5c;left:1352.57px;width:200px;text-align:center;">24 Oct</div>
<div class="t" id="t51" style="top:1089.80px;font-family:'Liberation Sans', sans-serif;font-size:18.6px;color:#2c6f83;letter-spacing:0.074px;left:83.30px;">View Orders</div>
<div class="t" id="t52" style="top:1265.00px;font-family:'Liberation Sans', sans-serif;font-size:26px;color:#232f3e;font-weight:700;letter-spacing:0.256px;left:83.30px;">Top-earning books</div>
<div class="t" id="t53" style="top:1301.00px;font-family:'Liberation Sans', sans-serif;font-size:17.3px;color:#737373;letter-spacing:0.116px;left:83.30px;">Across all formats and marketplaces.</div>
<div class="t" id="t54" style="top:1346.20px;font-family:'Liberation Serif', serif;font-size:27px;color:#1c1c1c;font-weight:700;left:227.82px;-webkit-text-stroke:0.45px #1c1c1c;transform:scaleX(0.9973);transform-origin:0 0;">$8.35*</div>
<div class="t" id="t55" style="top:1379.90px;font-family:'Liberation Sans', sans-serif;font-size:14.5px;color:#737373;letter-spacing:0.275px;left:226.50px;">Estimated royalties</div>
<div class="t" id="t56" style="top:1413.10px;font-family:'Liberation Serif', serif;font-size:27px;color:#1c1c1c;font-weight:700;left:226.86px;-webkit-text-stroke:0.45px #1c1c1c;transform:scaleX(0.9625);transform-origin:0 0;">5</div>
<div class="t" id="t57" style="top:1447.00px;font-family:'Liberation Sans', sans-serif;font-size:14.5px;color:#737373;letter-spacing:-0.092px;left:226.50px;">Processed orders</div>
<div class="t" id="t58" style="top:1480.00px;font-family:'Liberation Serif', serif;font-size:27px;color:#1c1c1c;font-weight:700;left:226.73px;-webkit-text-stroke:0.45px #1c1c1c;transform:scaleX(1.0922);transform-origin:0 0;">34</div>
<div class="t" id="t59" style="top:1512.80px;font-family:'Liberation Sans', sans-serif;font-size:14.5px;color:#737373;letter-spacing:-0.211px;left:226.50px;">Pages read</div>
<div class="t" id="t60" style="top:1554.90px;font-family:'Liberation Sans', sans-serif;font-size:14.8px;color:#737373;letter-spacing:-0.001px;left:82.40px;">I AM GROK: The Ultimate Guide to AI Engagement with xAI</div>
<div class="t" id="t61" style="top:1346.20px;font-family:'Liberation Serif', serif;font-size:27px;color:#1c1c1c;font-weight:700;left:741.62px;-webkit-text-stroke:0.45px #1c1c1c;transform:scaleX(0.9336);transform-origin:0 0;">$6.71*</div>
<div class="t" id="t62" style="top:1379.90px;font-family:'Liberation Sans', sans-serif;font-size:14.5px;color:#737373;letter-spacing:0.275px;left:740.30px;">Estimated royalties</div>
<div class="t" id="t63" style="top:1413.10px;font-family:'Liberation Serif', serif;font-size:27px;color:#1c1c1c;font-weight:700;left:739.48px;-webkit-text-stroke:0.45px #1c1c1c;transform:scaleX(1.0724);transform-origin:0 0;">108</div>
<div class="t" id="t64" style="top:1447.00px;font-family:'Liberation Sans', sans-serif;font-size:14.5px;color:#737373;letter-spacing:-0.092px;left:740.30px;">Processed orders</div>
<div class="t" id="t65" style="top:1480.00px;font-family:'Liberation Serif', serif;font-size:27px;color:#1c1c1c;font-weight:700;left:741.62px;-webkit-text-stroke:0.45px #1c1c1c;transform:scaleX(1.0434);transform-origin:0 0;">42</div>
<div class="t" id="t66" style="top:1512.80px;font-family:'Liberation Sans', sans-serif;font-size:14.5px;color:#737373;letter-spacing:-0.211px;left:740.30px;">Pages read</div>
<div class="t" id="t67" style="top:1554.90px;font-family:'Liberation Sans', sans-serif;font-size:14.8px;color:#737373;letter-spacing:-0.043px;left:588.40px;">The Ultimate Air Fryer Cookbook: Deliciously Crispy Meals Made</div>
<div class="t" id="t68" style="top:1573.80px;font-family:'Liberation Sans', sans-serif;font-size:14.8px;color:#737373;letter-spacing:0.017px;left:587.40px;">Easy: Transform Your Cooking with Over 100 Quick and Healthy</div>
<div class="t" id="t69" style="top:1591.80px;font-family:'Liberation Sans', sans-serif;font-size:14.8px;color:#737373;letter-spacing:-0.165px;left:587.40px;">Recipes for Every Meal</div>
<div class="t" id="t70" style="top:1346.20px;font-family:'Liberation Serif', serif;font-size:27px;color:#1c1c1c;font-weight:700;left:1226.52px;-webkit-text-stroke:0.45px #1c1c1c;transform:scaleX(0.9783);transform-origin:0 0;">$3.58*</div>
<div class="t" id="t71" style="top:1379.90px;font-family:'Liberation Sans', sans-serif;font-size:14.5px;color:#737373;letter-spacing:0.275px;left:1225.20px;">Estimated royalties</div>
<div class="t" id="t72" style="top:1413.10px;font-family:'Liberation Serif', serif;font-size:27px;color:#1c1c1c;font-weight:700;left:1224.46px;-webkit-text-stroke:0.45px #1c1c1c;transform:scaleX(1.0303);transform-origin:0 0;">124</div>
<div class="t" id="t73" style="top:1447.00px;font-family:'Liberation Sans', sans-serif;font-size:14.5px;color:#737373;letter-spacing:-0.092px;left:1225.20px;">Processed orders</div>
<div class="t" id="t74" style="top:1480.00px;font-family:'Liberation Serif', serif;font-size:27px;color:#1c1c1c;font-weight:700;left:1226.52px;-webkit-text-stroke:0.45px #1c1c1c;transform:scaleX(1.0283);transform-origin:0 0;">87</div>
<div class="t" id="t75" style="top:1512.80px;font-family:'Liberation Sans', sans-serif;font-size:14.5px;color:#737373;letter-spacing:-0.211px;left:1225.20px;">Pages read</div>
<div class="t" id="t76" style="top:1554.90px;font-family:'Liberation Sans', sans-serif;font-size:14.8px;color:#737373;letter-spacing:-0.048px;left:1074.40px;">The Ultimate Air Fryer Cookbook: Crispy &amp; Healthy Meals: Discover</div>
<div class="t" id="t77" style="top:1573.80px;font-family:'Liberation Sans', sans-serif;font-size:14.8px;color:#737373;letter-spacing:-0.007px;left:1074.40px;">Over 100 Delicious Recipes for Quick, Guilt-Free Cooking with Your Air</div>
<div class="t" id="t78" style="top:1591.80px;font-family:'Liberation Sans', sans-serif;font-size:14.8px;color:#737373;letter-spacing:-0.223px;left:1073.40px;">Fryer</div>
</body></html>
